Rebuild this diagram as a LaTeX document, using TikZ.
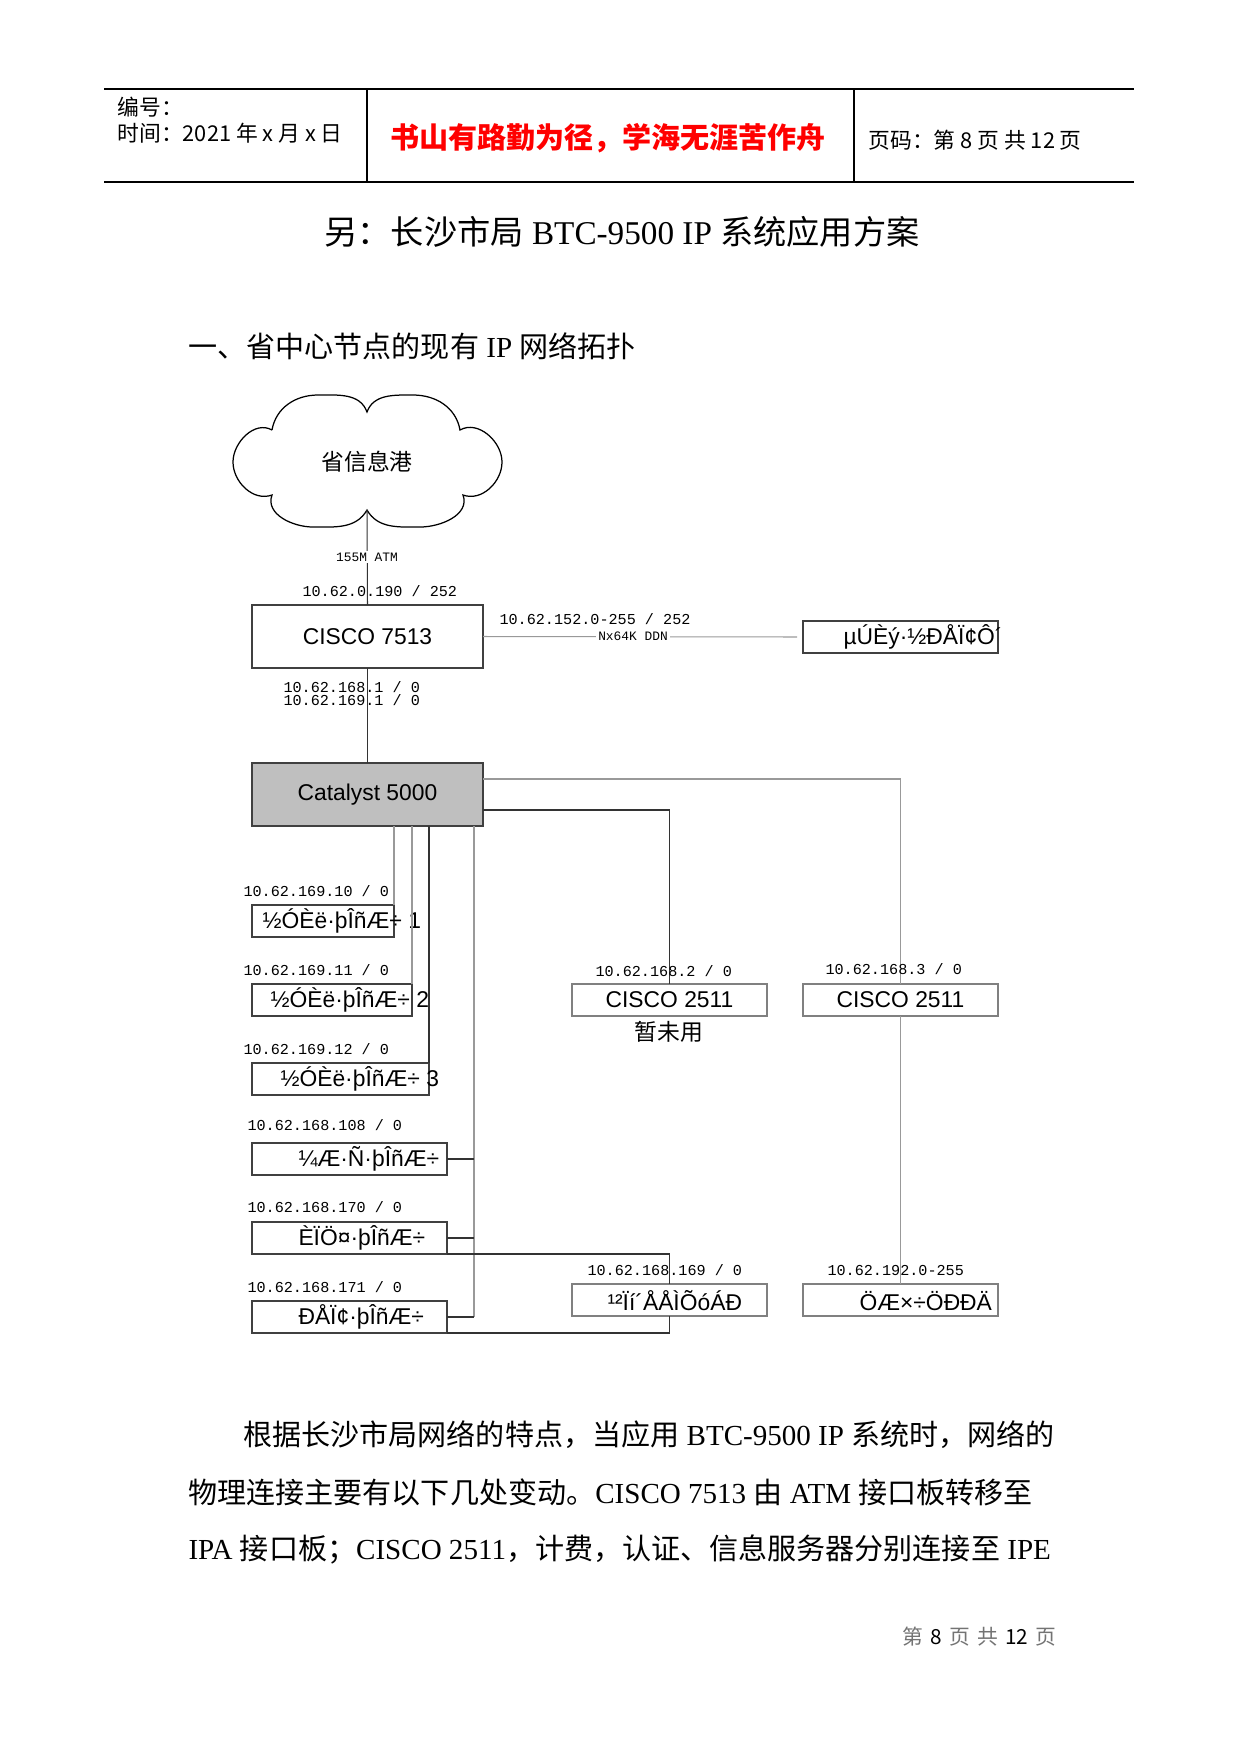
\documentclass[tikz,border=0pt]{standalone}
\usepackage{fontspec}
\setmainfont{Liberation Serif}
\setsansfont{Liberation Sans}
\newfontfamily\cjk{Noto Sans CJK SC}
\newfontfamily\ipfam{Liberation Mono}
\newdimen\pxu \pxu=0.16933mm

\begin{document}
\begin{tikzpicture}[x=0.16933mm, y=0.16933mm, line width=0.5pt,
	dark/.style={draw=black!80},
	lite/.style={draw=black!40},
	box/.style={draw=black!75, line width=0.6pt, anchor=north west, inner sep=0pt, outer sep=0pt,
		minimum height=32\pxu, minimum width=#1\pxu, font=\sffamily\fontsize{11}{13}\selectfont},
	rbox/.style={box=#1, draw=black!50},
	boxtxt/.style={font=\sffamily\fontsize{11}{13}\selectfont, anchor=west, inner sep=0pt},
	ip/.style={font=\ipfam\fontsize{7.3}{8}\selectfont, anchor=west, inner sep=0pt},
	ipsm/.style={font=\ipfam\fontsize{6.2}{7}\selectfont, inner sep=1pt, fill=white},
	cn/.style={font=\cjk\fontsize{#1}{#1}\selectfont, inner sep=0pt},
	body/.style={font=\fontsize{14}{16}\selectfont, anchor=west, inner sep=0pt}]
		\useasboundingbox (0,0) rectangle (1241,-1754);
		% шапка
		\draw [line width=0.7pt] (104,-89) -- (1134,-89);
		\draw [line width=0.7pt] (104,-182) -- (1134,-182);
		\draw [line width=0.7pt] (367,-89) -- (367,-182);
		\draw [line width=0.7pt] (854,-89) -- (854,-182);
		\node [cn=10.5, anchor=west] (hno) at (117,-107) {编号：};
		\node [cn=10.5, anchor=west] (hdate) at (117,-133) {时间：2021 年 x 月 x 日};
		\node [cn=14, text=red] (motto) at (608,-138) {\bfseries 书山有路勤为径，学海无涯苦作舟};
		\node [cn=10.5, anchor=west] (hpage) at (868,-140) {页码：第 8 页 共 12 页};
		% заголовки
		\node [body, font=\fontsize{16}{18}\selectfont] (title) at (324,-232) {{\cjk 另：长沙市局} BTC-9500 IP {\cjk 系统应用方案}};
		\node [body] (sect) at (188,-346) {{\cjk 一、省中心节点的现有} IP {\cjk 网络拓扑}};
		% облако
		\draw [line width=0.6pt] (272,-430) to[out=80,in=180] (318,-395) to[out=0,in=110] (367,-412)
			to[out=70,in=180] (413,-395) to[out=0,in=100] (460,-430) to[out=30,in=90] (502,-462)
			to[out=-90,in=-20] (463,-495) to[out=-70,in=0] (420,-527) to[out=180,in=-60] (367,-510)
			to[out=-120,in=0] (313,-527) to[out=180,in=-110] (272,-495) to[out=-160,in=-90] (233,-462)
			to[out=90,in=150] (272,-430);
		\node [cn=11] (isp) at (367,-462) {省信息港};
		\coordinate (ispb) at (367,-510);
		% узлы
		\node [box=231, minimum height=63\pxu] (c75) at (252,-605) {CISCO 7513};
		\node [box=231, minimum height=63\pxu, fill=black!25] (cat) at (252,-763) {Catalyst 5000};
		\node [box=195] (src) at (803,-621) {};
		\node [boxtxt] (srct) at (843,-637) {µÚÈý·½ÐÅÏ¢Ô´};
		\node [box=142] (s1) at (252,-905) {};
		\node [boxtxt] (s1t) at (262,-921) {½ÓÈë·þÎñÆ÷ 1};
		\node [box=160] (s2) at (252,-984) {};
		\node [boxtxt] (s2t) at (270,-1000) {½ÓÈë·þÎñÆ÷ 2};
		\node [box=177] (s3) at (252,-1063) {};
		\node [boxtxt] (s3t) at (280,-1079) {½ÓÈë·þÎñÆ÷ 3};
		\node [box=195] (bill) at (252,-1143) {};
		\node [boxtxt] (billt) at (298,-1159) {¼Æ·Ñ·þÎñÆ÷};
		\node [box=195] (auth) at (252,-1222) {};
		\node [boxtxt] (autht) at (298,-1238) {ÈÏÖ¤·þÎñÆ÷};
		\node [box=195] (info) at (252,-1301) {};
		\node [boxtxt] (infot) at (298,-1317) {ÐÅÏ¢·þÎñÆ÷};
		\node [rbox=195] (r1) at (572,-984) {CISCO 2511};
		\node [rbox=195] (r2) at (803,-984) {CISCO 2511};
		\node [cn=11] (idle) at (669,-1032) {暂未用};
		\node [rbox=195] (disk) at (572,-1284) {};
		\node [boxtxt] (diskt) at (607,-1301) {¹²Ïí´ÅÅÌÕóÁÐ};
		\node [rbox=195] (make) at (803,-1284) {};
		\node [boxtxt] (maket) at (859,-1301) {ÖÆ×÷ÖÐÐÄ};
		% линии
		\draw [dark] (ispb) -- (c75.north);
		\node [ipsm] (atm) at (367,-557) {155M ATM};
		\draw [dark] (c75.south) -- (cat.north);
		\draw [lite, shorten >=1mm] (c75.east) -- (src.west);
		\node [ipsm] (ddn) at (633,-636) {Nx64K DDN};
		\draw [lite] (cat.south -| s1.north east) -- (s1.north east);
		\draw [lite] (cat.south -| s2.north east) -- (s2.north east);
		\draw [dark] (cat.south -| s3.north east) -- (s3.north east);
		\coordinate (bus) at ([xshift=-9\pxu]cat.south east);
		\draw [lite] (bus) -- (bus |- info.east);
		\draw [dark] (bill.east) -- (bill.east -| bus);
		\draw [dark] (auth.east) -- (auth.east -| bus);
		\draw [dark] (info.east) -- (info.east -| bus);
		\draw [dark] (auth.south east) -| (disk.north);
		\draw [dark] (info.south east) -| (disk.south);
		\draw [lite] ([yshift=-16\pxu]cat.north east) -| (r2.north);
		\draw [dark] ([yshift=16\pxu]cat.south east) -| (r1.north);
		\draw [lite] (r2.south) -- (make.north);
		% адреса
		\node [ip] (ipa) at (302,-591) {10.62.0.190 / 252};
		\node [ip] (ipb) at (499,-619) {10.62.152.0-255 / 252};
		\node [ip] (ipc) at (283,-687) {10.62.168.1 / 0};
		\node [ip] (ipd) at (283,-700) {10.62.169.1 / 0};
		\node [ip] (ip1) at (243,-891) {10.62.169.10 / 0};
		\node [ip] (ip2) at (243,-970) {10.62.169.11 / 0};
		\node [ip] (ip3) at (243,-1049) {10.62.169.12 / 0};
		\node [ip] (ip4) at (247,-1125) {10.62.168.108 / 0};
		\node [ip] (ip5) at (247,-1207) {10.62.168.170 / 0};
		\node [ip] (ip6) at (247,-1287) {10.62.168.171 / 0};
		\node [ip] (ipr1) at (595,-971) {10.62.168.2 / 0};
		\node [ip] (ipr2) at (825,-969) {10.62.168.3 / 0};
		\node [ip] (ipdk) at (587,-1270) {10.62.168.169 / 0};
		\node [ip] (ipmk) at (827,-1270) {10.62.192.0-255};
		% текст
		\node [body] (p1) at (243,-1435) {{\cjk 根据长沙市局网络的特点，当应用} BTC-9500 IP {\cjk 系统时，网络的}};
		\node [body] (p2) at (188,-1492) {{\cjk 物理连接主要有以下几处变动。}CISCO 7513 {\cjk 由} ATM {\cjk 接口板转移至}};
		\node [body] (p3) at (188,-1549) {IPA {\cjk 接口板；}CISCO 2511{\cjk ，计费，认证、信息服务器分别连接至} IPE};
		\node [cn=10, anchor=west, text=black!55] (foot) at (902,-1637) {第\hspace{0.35em}\textcolor{black}{8}\hspace{0.35em}页\hspace{0.35em}共\hspace{0.35em}\textcolor{black}{12}\hspace{0.35em}页};
\end{tikzpicture}
\end{document}
